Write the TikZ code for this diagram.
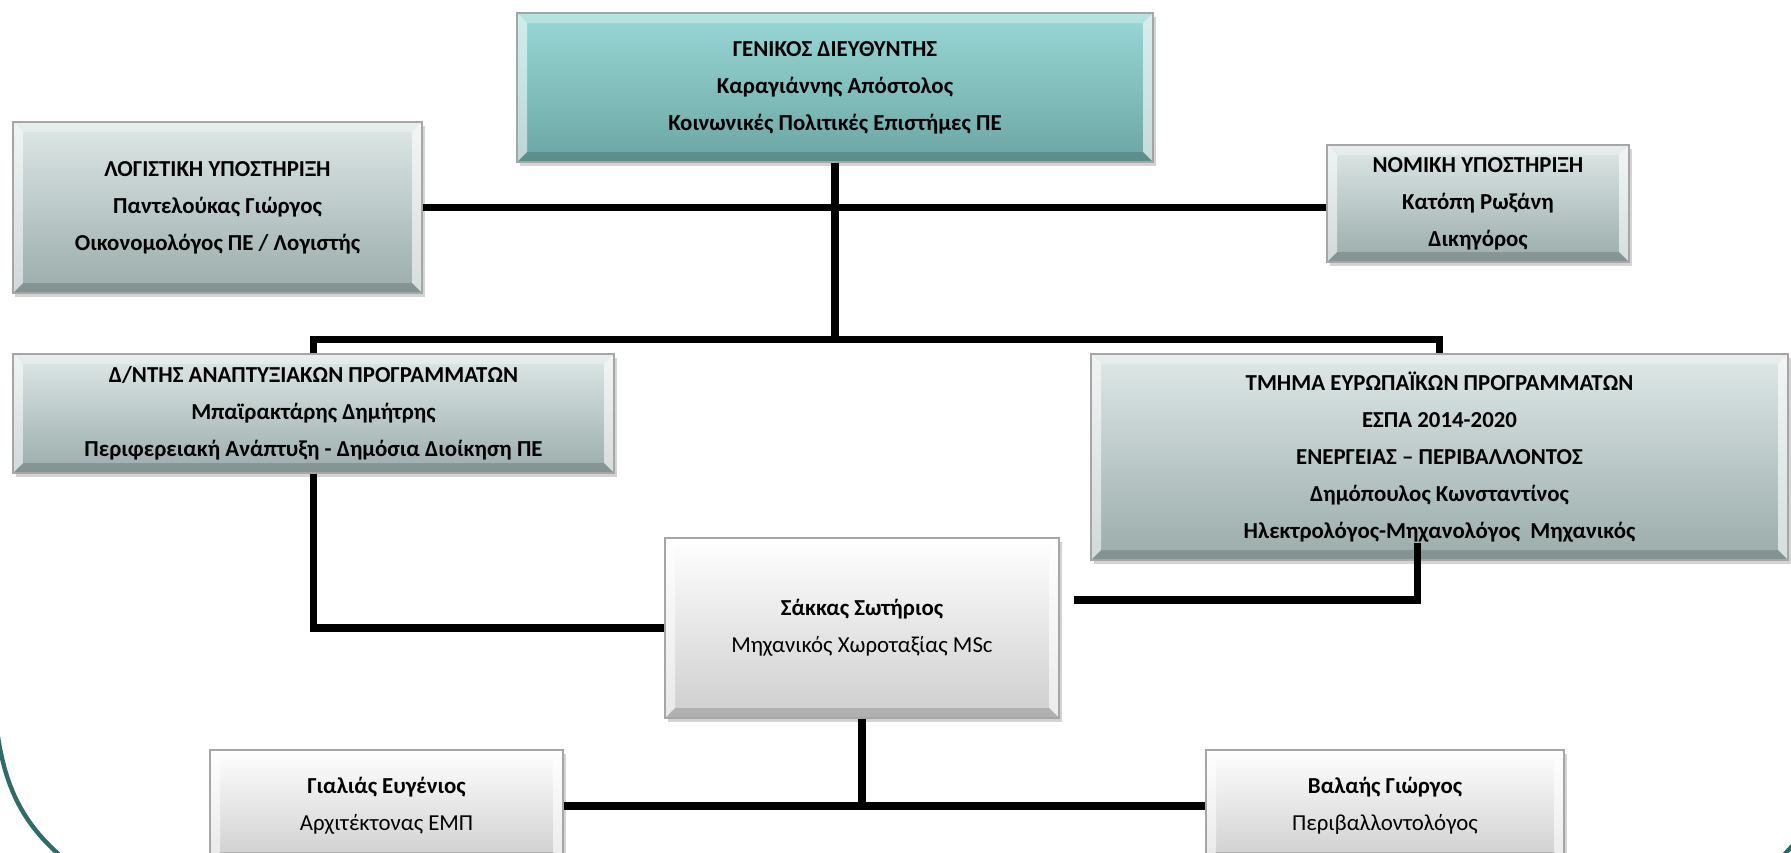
\documentclass[tikz,border=0pt]{standalone}
\usepackage{fontspec}
\setmainfont{Carlito}
\usepackage{tikz}
\usetikzlibrary{positioning, shadows}
\definecolor{tealtop}{RGB}{152,216,214}
\definecolor{tealbot}{RGB}{108,166,164}
\definecolor{greytop}{RGB}{222,232,231}
\definecolor{greybot}{RGB}{154,172,171}
\definecolor{whitebot}{RGB}{206,206,206}
\definecolor{arcteal}{RGB}{47,107,105}
\newcommand{\bevel}{%
  \coordinate (bnw) at (path picture bounding box.north west);
  \coordinate (bse) at (path picture bounding box.south east);
  \fill[white, opacity=.55] (bnw) -- (bnw |- bse) -- ++(0.2,0.2) -- ([shift={(0.2,-0.2)}]bnw) -- cycle;
  \fill[white, opacity=.3] (bnw) -- (bnw -| bse) -- ++(-0.2,-0.2) -- ([shift={(0.2,-0.2)}]bnw) -- cycle;
  \fill[white, opacity=.6] (bnw -| bse) -- (bse) -- ++(-0.2,0.2) -- ([shift={(-0.2,-0.2)}]bnw -| bse) -- cycle;
  \fill[black, opacity=.15] (bnw |- bse) -- (bse) -- ++(-0.2,0.2) -- ([shift={(0.2,0.2)}]bnw |- bse) -- cycle;}
\tikzstyle{orgbox} = [rectangle, draw=gray!70, line width=0.6pt, align=center,
  font=\fontsize{13}{21}\selectfont,
  drop shadow={opacity=0.35, shadow xshift=0.05cm, shadow yshift=-0.07cm},
  path picture={\bevel}]
\tikzstyle{tealbox} = [orgbox, top color=tealtop, bottom color=tealbot, font=\fontsize{13}{21}\selectfont\bfseries]
\tikzstyle{greybox} = [orgbox, top color=greytop, bottom color=greybot, font=\fontsize{13}{21}\selectfont\bfseries]
\tikzstyle{whitebox} = [orgbox, top color=white, bottom color=whitebot]
\tikzstyle{link} = [line width=4pt, black]
\begin{document}
\begin{tikzpicture}
    \useasboundingbox (0,0) rectangle (35.82,-17.06);
    \clip (0,0) rectangle (35.82,-17.06);
    \node[tealbox, minimum width=12.72cm, minimum height=2.98cm] (gd) at (16.7,-1.75) {ΓΕΝΙΚΟΣ ΔΙΕΥΘΥΝΤΗΣ\\ Καραγιάννης Απόστολος\\ Κοινωνικές Πολιτικές Επιστήμες ΠΕ};
    \node[greybox, left of=gd, xshift=-11.35cm, yshift=-2.4cm, minimum width=8.18cm, minimum height=3.42cm] (log) {ΛΟΓΙΣΤΙΚΗ ΥΠΟΣΤΗΡΙΞΗ\\ Παντελούκας Γιώργος\\ Οικονομολόγος ΠΕ / Λογιστής};
    \node[greybox, right of=gd, xshift=11.86cm, yshift=-2.32cm, minimum width=6.04cm, minimum height=2.34cm] (nom) {ΝΟΜΙΚΗ ΥΠΟΣΤΗΡΙΞΗ\\ Κατόπη Ρωξάνη\\ Δικηγόρος};
    \node[greybox, below of=gd, xshift=-10.43cm, yshift=-5.52cm, minimum width=12.02cm, minimum height=2.38cm] (anapt) {Δ/ΝΤΗΣ ΑΝΑΠΤΥΞΙΑΚΩΝ ΠΡΟΓΡΑΜΜΑΤΩΝ\\ Μπαϊρακτάρης Δημήτρης\\ Περιφερειακή Ανάπτυξη - Δημόσια Διοίκηση ΠΕ};
    \node[greybox, below of=gd, xshift=12.09cm, yshift=-6.39cm, minimum width=13.94cm, minimum height=4.12cm] (tmima) {ΤΜΗΜΑ ΕΥΡΩΠΑΪΚΩΝ ΠΡΟΓΡΑΜΜΑΤΩΝ\\ ΕΣΠΑ 2014-2020\\ ΕΝΕΡΓΕΙΑΣ – ΠΕΡΙΒΑΛΛΟΝΤΟΣ\\ Δημόπουλος Κωνσταντίνος\\ Ηλεκτρολόγος-Μηχανολόγος\ \ Μηχανικός};
    \node[whitebox, below of=gd, xshift=0.54cm, yshift=-9.81cm, minimum width=7.88cm, minimum height=3.6cm] (sak) {\textbf{Σάκκας Σωτήριος}\\ Μηχανικός Χωροταξίας MSc};
    \node[whitebox, below of=sak, xshift=-9.51cm, yshift=-2.56cm, minimum width=7.06cm, minimum height=2.24cm] (gial) {\textbf{Γιαλιάς Ευγένιος}\\ Αρχιτέκτονας ΕΜΠ};
    \node[whitebox, below of=sak, xshift=10.46cm, yshift=-2.56cm, minimum width=7.16cm, minimum height=2.24cm] (val) {\textbf{Βαλαής Γιώργος}\\ Περιβαλλοντολόγος};
    \coordinate (bus) at ([yshift=0.28cm]anapt.north);
    \coordinate (tm) at ([xshift=-0.45cm, yshift=0.36cm]tmima.south);
    \coordinate (sk) at ([xshift=0.28cm, yshift=0.56cm]sak.east);
    \draw[link] (gd.south) -- (gd.south |- bus)
        (log.east) -- (log.east -| nom.west)
        (anapt.north) -- (bus) -| (tmima.north)
        (anapt.south) |- (sak.west)
        (tm) |- (sk)
        (sak.south) -- (sak.south |- gial.east)
        (gial.east) -- (val.west);
    \draw[arcteal, line width=2.5pt] (-0.06,-14.6) .. controls (0.1,-15.8) and (0.5,-16.6) .. (1.5,-17.35);
    \draw[arcteal, line width=2.5pt] (35.64,-17.14) -- (35.9,-16.86);
\end{tikzpicture}
\end{document}
